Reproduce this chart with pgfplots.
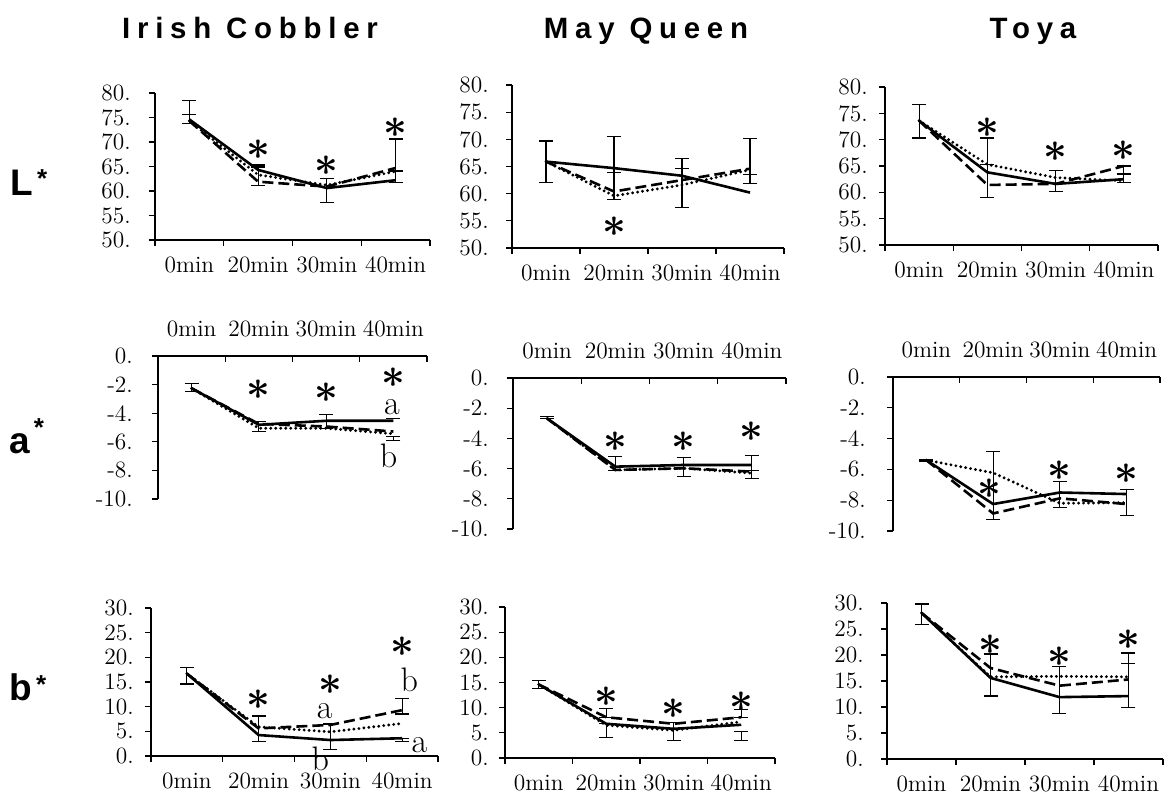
\documentclass[border=0pt]{standalone}
\usepackage{fontspec}
\usepackage{pgfplots}
\pgfplotsset{compat=1.18}
\newfontfamily\titlefont{Liberation Sans}[LetterSpace=23]
\newfontfamily\rowfont{Liberation Sans}
\tikzset{
  astr/.style={font=\fontsize{22}{22}\selectfont\boldmath, inner sep=0pt},
  lett/.style={font=\fontsize{17}{17}\selectfont, inner sep=0pt},
}
\pgfplotsset{
  panel/.style={
    scale only axis, clip=false,
    xmin=-0.5, xmax=3.5,
    xtick={-0.5,0.5,1.5,2.5,3.5},
    xticklabels={0min,20min,30min,40min},
    x tick label as interval,
    tick style={black, line width=0.6pt},
    major tick length=3pt,
    tick label style={font=\fontsize{11.7}{12}\selectfont},
  },
  rowB/.style={panel, axis x line=bottom, axis y line=left, tick align=outside,
    axis line style={-, line width=0.6pt, black},
    xticklabel style={yshift=-1.8pt}},
  rowT/.style={panel, axis x line=top, axis y line=left, tick align=inside,
    axis line style={-, line width=0.6pt, black},
    xticklabel style={yshift=6pt},
    ytick=\empty, extra y ticks={-10,-8,-6,-4,-2,0},
    extra y tick labels={-10.,-8.,-6.,-4.,-2.,0.},
    extra y tick style={tick align=outside}, ymin=-10, ymax=0},
  rowL/.style={rowB, ymin=50, ymax=80, ytick={50,55,60,65,70,75,80},
    yticklabels={50.,55.,60.,65.,70.,75.,80.}},
  rowBB/.style={rowB, ymin=0, ymax=30, ytick={0,5,10,15,20,25,30},
    yticklabels={0.,5.,10.,15.,20.,25.,30.}},
  ylg/.style={yticklabel style={xshift={6.9pt-#1pt}}},
  sS/.style={black, line width=1.3pt, mark=none},
  sD/.style={black, line width=1.3pt, dash pattern=on 5.5pt off 2.5pt, mark=none},
  sT/.style={black, line width=1.6pt, line cap=round, dash pattern=on 0pt off 2.5pt, mark=none},
  errb/.style={draw=none, mark=none, forget plot,
    error bars/.cd, y dir=both, y explicit, error mark=-,
    error bar style={draw=black, solid, line width=0.6pt},
    error mark options={draw=black, solid, line width=0.6pt, mark size=3.5pt, rotate=90}},
}
\begin{document}
\begin{tikzpicture}
\useasboundingbox (0,0) rectangle (584.5pt,-399.5pt);
% column titles
\node[anchor=base, inner sep=0pt] at (125pt,-19pt) {\titlefont\bfseries\fontsize{14.7}{15}\selectfont Irish Cobbler};
\node[anchor=base, inner sep=0pt] at (323pt,-19pt) {\titlefont\bfseries\fontsize{14.7}{15}\selectfont May Queen};
\node[anchor=base, inner sep=0pt] at (516.5pt,-19pt) {\titlefont\bfseries\fontsize{14.7}{15}\selectfont Toya};
% row labels
\node[anchor=base west, inner sep=0pt] at (5pt,-97.5pt) {\rowfont\bfseries\fontsize{18.5}{19}\selectfont L\hspace{2pt}\raisebox{4pt}{\fontsize{13}{13}\selectfont *}};
\node[anchor=base west, inner sep=0pt] at (4.5pt,-226.5pt) {\rowfont\bfseries\fontsize{18.5}{19}\selectfont a\hspace{2pt}\raisebox{8.2pt}{\fontsize{13}{13}\selectfont *}};
\node[anchor=base west, inner sep=0pt] at (4.5pt,-350pt) {\rowfont\bfseries\fontsize{18.5}{19}\selectfont b\hspace{2pt}\raisebox{3.2pt}{\fontsize{13}{13}\selectfont *}};

% ===== Row 1: L* =====
\begin{axis}[rowL, at={(77.5pt,-46.5pt)}, anchor=north west, width=137.5pt, height=73.5pt, ylg=12.5]
\addplot[sD] coordinates {(0,74.3) (1,61.9) (2,60.9) (3,64.7)};
\addplot[sT] coordinates {(0,74.3) (1,63.3) (2,61.2) (3,64.0)};
\addplot[sS] coordinates {(0,74.6) (1,64.3) (2,60.6) (3,62.2)};
\addplot[errb] coordinates {(0,76.05) +- (0,2.35) (0,75.6) +- (0,0) (1,63.25) +- (0,2.05) (1,64.9) +- (0,0) (2,60.05) +- (0,2.45) (3,66.15) +- (0,4.45) (3,64.1) +- (0,0)};
\node[astr] at (axis cs:1,68.4) {$\ast$};
\node[astr] at (axis cs:2,65.1) {$\ast$};
\node[astr] at (axis cs:3,72.9) {$\ast$};
\end{axis}

\begin{axis}[rowL, at={(256pt,-42.5pt)}, anchor=north west, width=136pt, height=81.5pt, ylg=12]
\addplot[sD] coordinates {(0,65.9) (1,60.4) (2,62.5) (3,64.6)};
\addplot[sT] coordinates {(0,65.9) (1,59.6) (2,61.6) (3,64.4)};
\addplot[sS] coordinates {(0,65.9) (1,64.7) (2,63.3) (3,60.2)};
\addplot[errb] coordinates {(0,65.9) +- (0,3.8) (1,64.7) +- (0,5.8) (1,63.9) +- (0,0) (2,62.0) +- (0,4.5) (2,64.6) +- (0,0) (3,66.0) +- (0,4.2) (3,63.5) +- (0,0)};
\node[astr] at (axis cs:1,54.0) {$\ast$};
\end{axis}

\begin{axis}[rowL, at={(442.5pt,-43.5pt)}, anchor=north west, width=136.5pt, height=79pt, ylg=9]
\addplot[sD] coordinates {(0,73.6) (1,61.4) (2,61.6) (3,65.0)};
\addplot[sT] coordinates {(0,73.6) (1,65.3) (2,62.8) (3,62.2)};
\addplot[sS] coordinates {(0,73.6) (1,63.8) (2,61.6) (3,62.5)};
\addplot[errb] coordinates {(0,73.5) +- (0,3.2) (1,64.65) +- (0,5.65) (1,65.3) +- (0,0) (2,62.1) +- (0,2.0) (3,63.4) +- (0,1.6) (3,63.5) +- (0,0)};
\node[astr] at (axis cs:1,72.2) {$\ast$};
\node[astr] at (axis cs:2,67.7) {$\ast$};
\node[astr] at (axis cs:3,68.0) {$\ast$};
\end{axis}

% ===== Row 2: a* =====
\begin{axis}[rowT, at={(79pt,-178pt)}, anchor=north west, width=134.5pt, height=71.5pt, ylg=13]
\addplot[sD] coordinates {(0,-2.26) (1,-4.75) (2,-4.93) (3,-5.28)};
\addplot[sT] coordinates {(0,-2.26) (1,-5.05) (2,-5.05) (3,-5.44)};
\addplot[sS] coordinates {(0,-2.26) (1,-4.81) (2,-4.53) (3,-4.53)};
\addplot[errb] coordinates {(0,-2.22) +- (0,0.28) (1,-4.93) +- (0,0.35) (2,-4.58) +- (0,0.47) (3,-4.35) +- (0,0) (3,-5.77) +- (0,0.13)};
\node[astr] at (axis cs:1,-2.38) {$\ast$};
\node[astr] at (axis cs:2,-2.59) {$\ast$};
\node[astr] at (axis cs:3,-1.54) {$\ast$};
\node[lett] at (axis cs:2.98,-3.57) {a};
\node[lett] at (axis cs:2.93,-6.99) {b};
\end{axis}

\begin{axis}[rowT, at={(256.5pt,-189pt)}, anchor=north west, width=136.5pt, height=75.5pt, ylg=12.5]
\addplot[sD] coordinates {(0,-2.68) (1,-6.09) (2,-5.98) (3,-6.2)};
\addplot[sT] coordinates {(0,-2.68) (1,-6.09) (2,-5.98) (3,-6.3)};
\addplot[sS] coordinates {(0,-2.68) (1,-5.87) (2,-5.76) (3,-5.76)};
\addplot[errb] coordinates {(0,-2.6) +- (0,0.07) (1,-5.65) +- (0,0.45) (2,-5.9) +- (0,0.63) (3,-5.89) +- (0,0.75) (3,-6.13) +- (0,0)};
\node[astr] at (axis cs:1,-4.24) {$\ast$};
\node[astr] at (axis cs:2,-4.24) {$\ast$};
\node[astr] at (axis cs:3,-3.58) {$\ast$};
\end{axis}

\begin{axis}[rowT, at={(446.5pt,-188.5pt)}, anchor=north west, width=133.5pt, height=77pt, ylg=14]
\addplot[sD] coordinates {(0,-5.4) (1,-8.86) (2,-7.88) (3,-8.25)};
\addplot[sT] coordinates {(0,-5.4) (1,-6.22) (2,-8.2) (3,-8.16)};
\addplot[sS] coordinates {(0,-5.4) (1,-8.25) (2,-7.5) (3,-7.6)};
\addplot[errb] coordinates {(0,-5.4) +- (0,0.05) (1,-7.05) +- (0,2.19) (2,-7.64) +- (0,0.84) (3,-8.15) +- (0,0.85)};
\node[astr] at (axis cs:0.94,-7.27) {$\ast$};
\node[astr] at (axis cs:2,-6.1) {$\ast$};
\node[astr] at (axis cs:3,-6.3) {$\ast$};
\end{axis}

% ===== Row 3: b* =====
\begin{axis}[rowBB, at={(75.5pt,-304pt)}, anchor=north west, width=143.5pt, height=74pt, ylg=9]
\addplot[sD] coordinates {(0,16.7) (1,5.6) (2,6.3) (3,9.3)};
\addplot[sT] coordinates {(0,16.7) (1,5.9) (2,4.9) (3,6.6)};
\addplot[sS] coordinates {(0,16.7) (1,4.25) (2,3.24) (3,3.6)};
\addplot[errb] coordinates {(0,16.25) +- (0,1.65) (1,5.5) +- (0,2.6) (2,3.9) +- (0,2.6) (3,10.1) +- (0,1.6) (3,3.25) +- (0,0.35)};
\node[astr] at (axis cs:1,11.4) {$\ast$};
\node[astr] at (axis cs:2,14.4) {$\ast$};
\node[astr] at (axis cs:3,22.1) {$\ast$};
\node[lett] at (axis cs:1.92,9.2) {a};
\node[lett] at (axis cs:1.86,-0.6) {b};
\node[lett] at (axis cs:3.1,15.4) {b};
\node[lett] at (axis cs:3.24,2.3) {a};
\end{axis}

\begin{axis}[rowBB, at={(252.5pt,-303.5pt)}, anchor=north west, width=135pt, height=75.5pt, ylg=8.5]
\addplot[sD] coordinates {(0,14.6) (1,8.1) (2,6.8) (3,8.1)};
\addplot[sT] coordinates {(0,14.6) (1,6.5) (2,5.5) (3,7.2)};
\addplot[sS] coordinates {(0,14.6) (1,6.8) (2,5.8) (3,6.6)};
\addplot[errb] coordinates {(0,14.6) +- (0,0.8) (1,9.0) +- (0,0.9) (1,5.4) +- (0,1.4) (2,5.25) +- (0,1.75) (3,8.85) +- (0,0.75) (3,4.35) +- (0,0.85)};
\node[astr] at (axis cs:1,12.1) {$\ast$};
\node[astr] at (axis cs:2,9.7) {$\ast$};
\node[astr] at (axis cs:3,11.1) {$\ast$};
\end{axis}

\begin{axis}[rowBB, at={(443.5pt,-301.5pt)}, anchor=north west, width=138pt, height=78pt, ylg=12]
\addplot[sD] coordinates {(0,28.1) (1,17.5) (2,14.1) (3,15.3)};
\addplot[sT] coordinates {(0,28.1) (1,15.8) (2,15.9) (3,15.8)};
\addplot[sS] coordinates {(0,28.1) (1,15.6) (2,11.9) (3,12.1)};
\addplot[errb] coordinates {(0,27.8) +- (0,2.0) (1,16.15) +- (0,4.05) (2,13.3) +- (0,4.5) (3,15.15) +- (0,5.25) (3,18.3) +- (0,0)};
\node[astr] at (axis cs:1,21.9) {$\ast$};
\node[astr] at (axis cs:2,19.6) {$\ast$};
\node[astr] at (axis cs:3,22.9) {$\ast$};
\end{axis}
\end{tikzpicture}
\end{document}
